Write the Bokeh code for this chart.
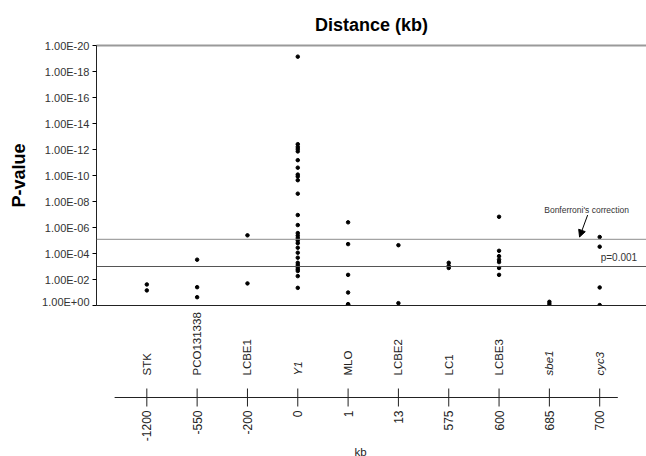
from math import pi
from bokeh.plotting import figure
from bokeh.layouts import column
from bokeh.models import (Range1d, FixedTicker, CustomJSTickFormatter, Span, Label,
                          Arrow, NormalHead, LinearAxis, ColumnDataSource)
from bokeh.embed import file_html
from bokeh.resources import INLINE
from bokeh.core.properties import value

# ---------------- data ----------------
genes = ["STK", "PCO131338", "LCBE1", "Y1", "MLO", "LCBE2", "LC1", "LCBE3", "sbe1", "cyc3"]
gene_style = ["normal", "normal", "normal", "italic", "normal", "normal", "normal", "normal", "italic", "italic"]
distance_kb = ["-1200", "-550", "-200", "0", "1", "13", "575", "600", "685", "700"]

p_STK = [2.4e-2, 6.9e-2]
p_PCO131338 = [3.0e-4, 3.9e-2, 2.3e-1]
p_LCBE1 = [4.0e-6, 2.0e-2]
p_Y1 = [7.2e-20, 3.9e-13, 6.3e-13, 9.3e-13, 1.4e-12, 6.6e-12, 2.5e-11, 8.5e-11, 1.2e-10,
        2.3e-10, 2.5e-9, 1.1e-7, 6.5e-7, 2.7e-6, 4.2e-6, 6.5e-6, 1.0e-5, 1.6e-5, 3.6e-5,
        8.7e-5, 2.1e-4, 5.2e-4, 7.8e-4, 1.1e-3, 1.6e-3, 2.2e-3, 5.5e-3, 4.4e-2]
p_MLO = [4.0e-7, 1.9e-5, 4.4e-3, 1.0e-1, 7.9e-1, 8.3e-1]
p_LCBE2 = [2.3e-5, 6.6e-1]
p_LC1 = [5.2e-4, 8.9e-4, 1.3e-3]
p_LCBE3 = [1.5e-7, 6.2e-5, 1.6e-4, 3.0e-4, 4.6e-4, 1.3e-3, 4.4e-3]
p_sbe1 = [5.2e-1, 7.6e-1]
p_cyc3 = [5.4e-6, 3.0e-5, 4.1e-2, 9.3e-1]

y_ticks = [1e0, 1e-2, 1e-4, 1e-6, 1e-8, 1e-10, 1e-12, 1e-14, 1e-16, 1e-18, 1e-20]
bonferroni = 8.1e-6
p_threshold = 1e-3

all_p = [p_STK, p_PCO131338, p_LCBE1, p_Y1, p_MLO, p_LCBE2, p_LC1, p_LCBE3, p_sbe1, p_cyc3]
positions = list(range(1, len(genes) + 1))
xs, ys = [], []
for pos, vals in zip(positions, all_p):
    xs += [pos] * len(vals)
    ys += vals

FONT = "Liberation Sans"
X_END = 10.93

# ---------------- top figure ----------------
p = figure(width=646, height=307, y_axis_type="log",
           x_range=Range1d(0, X_END), y_range=Range1d(1, 1e-20),
           output_backend="svg", toolbar_location=None,
           min_border_left=96, min_border_right=0, min_border_top=45, min_border_bottom=2,
           title="Distance (kb)")
p.title.align = "center"
p.title.text_font = FONT
p.title.text_font_size = "18px"
p.title.text_font_style = "bold"
p.title.text_color = "black"
p.title.standoff = 22
p.outline_line_color = None
p.xgrid.visible = False
p.ygrid.visible = False
p.background_fill_color = "white"

# y axis
ya = p.yaxis[0]
ya.ticker = FixedTicker(ticks=y_ticks)
ya.formatter = CustomJSTickFormatter(code="""
const s = tick.toExponential(2).split('e');
const e = parseInt(s[1]);
const a = Math.abs(e);
return s[0] + 'E' + (e < 0 ? '-' : '+') + (a < 10 ? '0' + a : '' + a);
""")
ya.axis_label = "P-value"
ya.axis_label_text_font = FONT
ya.axis_label_text_font_size = "18px"
ya.axis_label_text_font_style = "bold"
ya.axis_label_text_color = "black"
ya.axis_label_standoff = 10
ya.major_label_text_font = FONT
ya.major_label_text_font_size = "11px"
ya.major_label_text_color = "#333333"
ya.major_label_standoff = 3
ya.major_tick_in = 0
ya.major_tick_out = 4
ya.minor_tick_in = 0
ya.minor_tick_out = 0
ya.axis_line_color = "#222222"

# bottom axis line only
xa = p.xaxis[0]
xa.ticker = FixedTicker(ticks=[])
xa.minor_tick_out = 0
xa.major_tick_out = 0
xa.axis_line_color = "#222222"

# top gray line
top = LinearAxis(ticker=FixedTicker(ticks=[]), axis_line_color="#9a9a9a", axis_line_width=2,
                 major_tick_out=0, minor_tick_out=0)
p.add_layout(top, "above")

p.add_layout(Span(location=bonferroni, dimension="width", line_color="#8c8c8c", line_width=1))
p.add_layout(Span(location=p_threshold, dimension="width", line_color="#555555", line_width=1))

p.scatter(xs, ys, size=3.5, color="black", marker="circle")

p.add_layout(Label(x=9.74, y=4.5e-8, text="Bonferroni's correction", text_align="center",
                   text_baseline="middle", text_font=FONT, text_font_size="8.5px",
                   text_color="#333333"))
p.add_layout(Arrow(x_start=9.76, y_start=1.1e-7, x_end=9.60, y_end=5.4e-6,
                   line_color="black", line_width=1,
                   end=NormalHead(size=7, fill_color="black", line_color="black")))
p.add_layout(Label(x=10.02, y=1.9e-4, text="p=0.001", text_align="left",
                   text_baseline="middle", text_font=FONT, text_font_size="10px",
                   text_color="#333333"))

# ---------------- bottom figure (gene names + kb scale) ----------------
# y in pixels relative to the kb scale line
p2 = figure(width=646, height=149, x_range=Range1d(0, X_END), y_range=Range1d(-59, 90),
            x_axis_location=None, y_axis_location=None,
            output_backend="svg", toolbar_location=None,
            min_border_left=96, min_border_right=0, min_border_top=0, min_border_bottom=0)
p2.xgrid.visible = False
p2.ygrid.visible = False
p2.outline_line_color = None

n = len(genes)
src = ColumnDataSource(dict(x=positions, name=genes, style=gene_style, dist=distance_kb))

# scale line with crossing ticks
p2.segment(x0=[0.36], y0=[0], x1=[10.36], y1=[0], line_color="#222222", line_width=1)
p2.segment(x0="x", y0=-9, x1="x", y1=9, source=src, line_color="#222222", line_width=1)

# gene names above the line, reading upward
p2.text(x="x", y=22, text="name", source=src, angle=pi / 2, text_align="left",
        text_baseline="middle", text_font=value(FONT), text_font_size=value("11.5px"),
        text_font_style="style", text_color="#222222")

# distances below the line, reading upward
p2.text(x="x", y=-13, text="dist", source=src, angle=pi / 2, text_align="right",
        text_baseline="middle", text_font=value(FONT), text_font_size=value("12px"),
        text_color="#222222")

p2.text(x=[5.25], y=[-54], text=["kb"], text_align="center", text_baseline="middle",
        text_font=value(FONT), text_font_size=value("11.5px"), text_color="#222222")

layout = column(p, p2)
open("out.html", "w").write(file_html(layout, INLINE))
